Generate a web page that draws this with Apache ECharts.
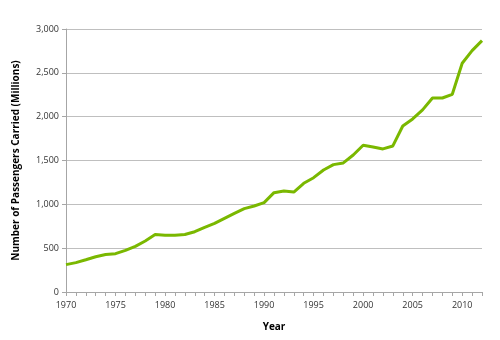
<!DOCTYPE html>
<html><head><meta charset="utf-8">
<script src="https://cdn.jsdelivr.net/npm/echarts@6/dist/echarts.min.js"></script>
<style>html,body{margin:0;padding:0;background:#fff}#c{width:500px;height:340px}</style>
</head><body><div id="c"></div>
<script>
const years = [];
for (let y = 1970; y <= 2012; y++) years.push(String(y));
const passengers = [312, 335, 368, 402, 428, 437, 475, 521, 582, 655,
  647, 647, 656, 688, 738, 783, 840, 897, 951, 981,
  1019, 1133, 1152, 1140, 1240, 1304, 1392, 1453, 1472, 1563,
  1674, 1654, 1632, 1666, 1894, 1974, 2077, 2213, 2213, 2255,
  2609, 2753, 2867];
const yTicks = [0, 500, 1000, 1500, 2000, 2500, 3000];
const xName = 'Year';
const yName = 'Number of Passengers Carried (Millions)';

const chart = echarts.init(document.getElementById('c'));
const font = '"Open Sans", "DejaVu Sans", sans-serif';
chart.setOption({
  animation: false,
  grid: { left: 66, right: 18, top: 29, bottom: 48 },
  xAxis: {
    type: 'category', data: years, boundaryGap: false,
    name: xName, nameLocation: 'middle', nameGap: 30,
    nameTextStyle: { fontFamily: font, fontWeight: 'bold', fontSize: 10, color: '#000' },
    axisLine: { lineStyle: { color: '#a6a6a6' } },
    axisTick: { interval: 0, length: 4, lineStyle: { color: '#a6a6a6' } },
    axisLabel: { interval: 4, fontFamily: font, fontSize: 9, color: '#333', margin: 9 },
    splitLine: { show: false }
  },
  yAxis: {
    type: 'value', min: yTicks[0], max: yTicks[yTicks.length - 1], interval: 500,
    name: yName, nameLocation: 'middle', nameGap: 45,
    nameTextStyle: { fontFamily: font, fontWeight: 'bold', fontSize: 10, color: '#000' },
    axisLine: { show: true, lineStyle: { color: '#a6a6a6' } },
    axisTick: { show: true, length: 4, lineStyle: { color: '#a6a6a6' } },
    axisLabel: { fontFamily: font, fontSize: 9, color: '#333', margin: 7,
      formatter: v => v.toLocaleString('en-US') },
    splitLine: { lineStyle: { color: '#bfbfbf' } }
  },
  series: [{
    type: 'line', data: passengers, symbol: 'none',
    lineStyle: { color: '#7ab800', width: 3 }
  }]
});
</script></body></html>
